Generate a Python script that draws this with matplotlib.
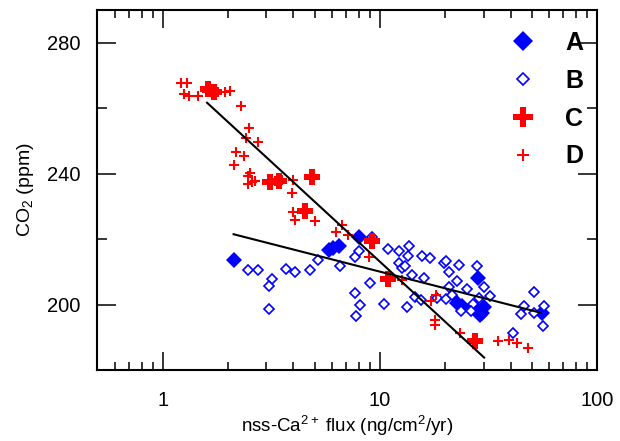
import numpy as np
import matplotlib.pyplot as plt
from matplotlib.ticker import MultipleLocator, LogLocator, FixedFormatter, FixedLocator, NullFormatter

plt.rcParams['font.family'] = ['Liberation Sans', 'DejaVu Sans']
plt.rcParams['mathtext.fontset'] = 'custom'
plt.rcParams['mathtext.rm'] = 'Liberation Sans'
plt.rcParams['mathtext.it'] = 'Liberation Sans:italic'

# Серія A: великі заповнені ромби
A_x = [2.13, 5.8, 6.1, 6.45, 8.0, 28.4, 22.6, 24.0, 27.3, 28.8, 30.3, 29.5, 55.6]
A_y = [213.7, 216.6, 217.2, 218.0, 220.6, 208.0, 200.6, 199.5, 198.8, 196.8, 199.3, 197.5, 197.4]

# Серія B: малі порожні ромби
B_x = [2.46, 2.76, 3.18, 3.10, 3.10, 3.70, 4.05, 4.76, 5.17, 6.54,
       7.72, 8.0, 9.22, 7.67, 8.09, 7.78, 9.05, 10.4, 10.9, 12.2,
       13.6, 13.5, 12.2, 12.7, 13.1, 14.1, 13.3, 14.5, 15.7, 17.1,
       16.0, 15.4, 19.7, 20.1, 20.8, 23.2, 22.6, 20.8, 18.4, 20.1,
       23.6, 25.1, 26.7, 26.2, 27.9, 30.2, 32.2, 41.2, 44.6, 45.9,
       51.0, 56.7, 56.1, 51.4, 21.5, 28.5]
B_y = [210.5, 210.5, 207.8, 205.8, 198.7, 210.9, 209.9, 210.5, 213.5, 211.7,
       214.5, 216.3, 220.6, 203.4, 200.0, 196.4, 206.6, 200.3, 217.0, 216.3,
       218.0, 214.9, 212.7, 211.2, 211.7, 209.1, 199.3, 202.3, 214.9, 214.2,
       208.1, 201.3, 212.7, 213.4, 209.9, 212.2, 207.1, 205.4, 202.0, 201.7,
       198.0, 204.8, 200.3, 198.0, 211.7, 205.4, 202.5, 191.4, 197.0, 199.5,
       203.8, 199.7, 193.6, 197.5, 203.0, 202.0]

# Серія C: великі жирні хрестики
C_x = [1.62, 1.72, 3.12, 3.42, 4.86, 4.53, 9.2, 10.9, 27.3]
C_y = [265.8, 265.0, 237.6, 237.9, 239.1, 228.7, 219.3, 207.7, 188.8]

# Серія D: малі хрестики
D_x = [1.22, 1.30, 1.25, 1.32, 1.46, 1.60, 1.80, 1.94, 2.05, 2.30,
       2.50, 2.42, 2.74, 2.17, 2.38, 2.12, 2.46, 2.46, 2.58, 2.66,
       2.52, 3.30, 3.54, 3.98, 3.92, 3.96, 4.05, 5.05, 6.70, 6.25,
       7.15, 8.9, 12.6, 18.2, 17.2, 18.0, 18.0, 23.3, 35.0, 39.3,
       43.0, 48.0]
D_y = [267.6, 267.6, 264.5, 263.7, 263.8, 265.0, 265.0, 265.0, 265.2, 260.7,
       253.9, 250.9, 249.6, 246.7, 245.4, 242.8, 239.3, 236.8, 237.4, 237.8,
       240.3, 237.8, 238.1, 238.0, 234.0, 228.4, 225.9, 225.4, 224.4, 222.2,
       221.2, 214.5, 207.6, 202.8, 201.0, 195.4, 193.8, 191.2, 188.8, 189.3,
       188.4, 186.8]

# Лінії регресії (кінцеві точки)
fit1_x = [1.6, 30.2]
fit1_y = [261.7, 183.8]
fit2_x = [2.12, 55.0]
fit2_y = [221.5, 197.5]

fig = plt.figure(figsize=(6.2, 4.41), dpi=100)
ax = fig.add_axes([0.157, 0.161, 0.806, 0.816])

ax.plot(A_x, A_y, 'D', color='blue', ms=7.8, mew=0, label='A', zorder=2)
ax.plot(B_x, B_y, 'D', mfc='white', mec='blue', ms=5.0, mew=1.2, label='B', zorder=3)
ax.plot(C_x, C_y, 'P', color='red', ms=11.5, mew=0, label='C', zorder=4)
ax.plot(D_x, D_y, '+', color='red', ms=7, mew=1.5, label='D', zorder=5)
ax.plot(fit1_x, fit1_y, color='black', lw=1.5, zorder=6)
ax.plot(fit2_x, fit2_y, color='black', lw=1.5, zorder=6)

ax.set_xscale('log')
ax.set_xlim(0.5, 100)
ax.set_ylim(180, 290)

ax.xaxis.set_major_locator(FixedLocator([1, 10, 100]))
ax.xaxis.set_major_formatter(FixedFormatter(['1', '10', '100']))
ax.xaxis.set_minor_locator(LogLocator(base=10, subs=np.arange(2, 10)))
ax.xaxis.set_minor_formatter(NullFormatter())
ax.yaxis.set_major_locator(MultipleLocator(40))
ax.yaxis.set_minor_locator(MultipleLocator(20))

ax.tick_params(which='both', direction='in', top=True, right=True, width=1.1,
               labelsize=14.5)
ax.tick_params(axis='x', which='major', length=13, pad=15)
ax.tick_params(axis='x', which='minor', length=6)
ax.tick_params(axis='y', which='major', length=14, pad=12)
ax.tick_params(axis='y', which='minor', length=7)
for s in ax.spines.values():
    s.set_linewidth(1.5)

ax.set_xlabel(r'nss-Ca$^{\mathrm{2+}}$ flux (ng/cm$^{\mathrm{2}}$/yr)', fontsize=13.5, labelpad=3)
ax.set_ylabel(r'CO$_{\mathrm{2}}$ (ppm)', fontsize=14, labelpad=8)

leg = ax.legend(loc='upper right', bbox_to_anchor=(1.0, 0.98), frameon=False,
                markerscale=1.3, prop={'weight': 'bold', 'size': 18},
                handletextpad=1.05, labelspacing=0.55, borderaxespad=0.2,
                handlelength=1.3, borderpad=0.35)

fig.savefig('out.png', dpi=100)
